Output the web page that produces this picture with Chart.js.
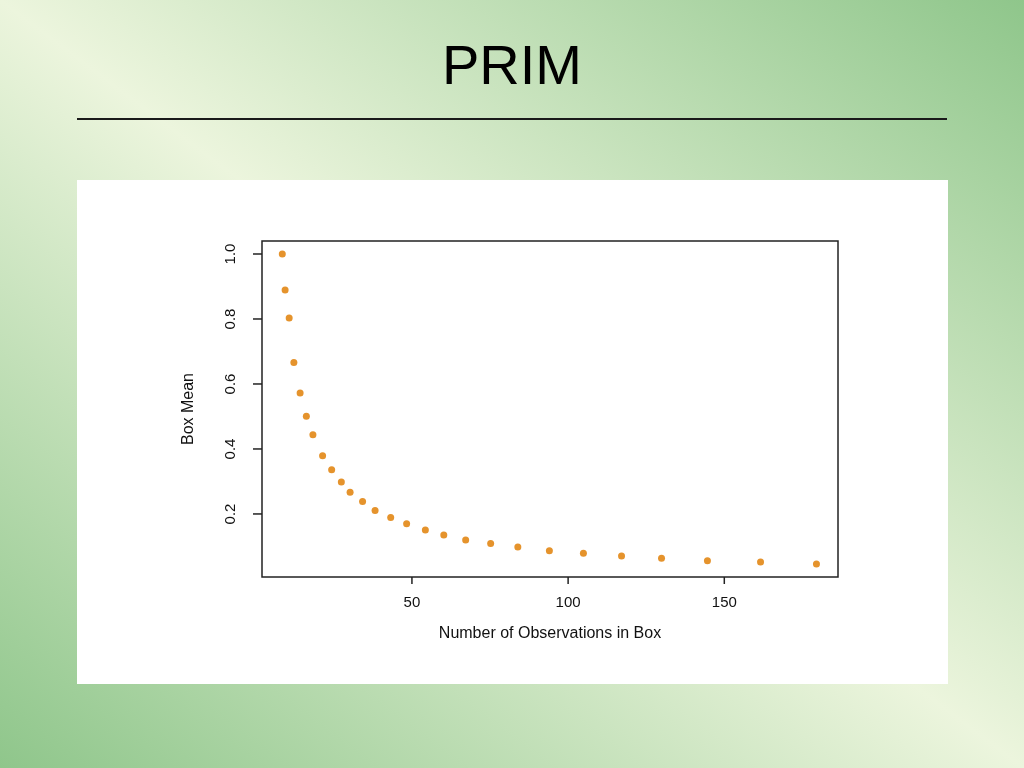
<!DOCTYPE html>
<html>
<head>
<meta charset="utf-8">
<title>PRIM</title>
<script src="https://cdn.jsdelivr.net/npm/chart.js@4"></script>
<style>
  html, body { margin: 0; padding: 0; }
  body {
    width: 1024px; height: 768px; position: relative; overflow: hidden;
    background: linear-gradient(to top right, #8fc68b 0%, #ecf5dd 50%, #8fc68b 100%);
    font-family: "Liberation Sans", Arial, sans-serif;
  }
  #titulo {
    position: absolute; left: 0; width: 1024px; top: 30px;
    text-align: center; font-size: 56px; line-height: 70px; color: #000;
  }
  #linea {
    position: absolute; left: 77px; top: 118px; width: 870px; height: 2px; background: #1a1a1a;
  }
  #panel {
    position: absolute; left: 77px; top: 180px; width: 871px; height: 504px; background: #fff;
  }
</style>
</head>
<body>
<div id="titulo">PRIM</div>
<div id="linea"></div>
<div id="panel"><canvas id="graficaPrim" width="871" height="504"></canvas></div>
<script>
// Datos
const observaciones = [8.5, 9.4, 10.7, 12.2, 14.2, 16.2, 18.3, 21.4, 24.3, 27.4, 30.2, 34.2, 38.2, 43.2, 48.3, 54.3, 60.2, 67.2, 75.2, 83.9, 94.0, 104.9, 117.1, 129.9, 144.6, 161.6, 179.5];
const mediaCaja = [1.0, 0.889, 0.803, 0.666, 0.572, 0.501, 0.444, 0.379, 0.336, 0.298, 0.267, 0.238, 0.211, 0.189, 0.170, 0.151, 0.135, 0.120, 0.109, 0.098, 0.087, 0.079, 0.071, 0.064, 0.056, 0.052, 0.046];
const ticksX = [50, 100, 150];
const ticksY = [0.2, 0.4, 0.6, 0.8, 1.0];
const etiquetasY = ["0.2", "0.4", "0.6", "0.8", "1.0"];

const puntos = observaciones.map((x, i) => ({ x: x, y: mediaCaja[i] }));

// Ejes y marco estilo R
const ejesR = {
    id: 'ejesR',
    afterDraw(chart) {
        const ctx = chart.ctx;
        const area = chart.chartArea;
        const sx = chart.scales.x;
        const sy = chart.scales.y;
        ctx.save();
        ctx.strokeStyle = '#222';
        ctx.fillStyle = '#111';
        ctx.lineWidth = 1.5;
        ctx.strokeRect(area.left, area.top, area.right - area.left, area.bottom - area.top);

        ctx.font = '15px "Liberation Sans", Arial, sans-serif';
        ctx.textAlign = 'center';
        ctx.textBaseline = 'middle';
        ticksX.forEach(v => {
            const px = sx.getPixelForValue(v);
            ctx.beginPath();
            ctx.moveTo(px, area.bottom);
            ctx.lineTo(px, area.bottom + 7);
            ctx.stroke();
            ctx.fillText(String(v), px, area.bottom + 26);
        });

        ticksY.forEach((v, i) => {
            const py = sy.getPixelForValue(v);
            ctx.beginPath();
            ctx.moveTo(area.left, py);
            ctx.lineTo(area.left - 9, py);
            ctx.stroke();
            ctx.save();
            ctx.translate(area.left - 31, py);
            ctx.rotate(-Math.PI / 2);
            ctx.fillText(etiquetasY[i], 0, 0);
            ctx.restore();
        });

        ctx.font = '16px "Liberation Sans", Arial, sans-serif';
        ctx.fillText('Number of Observations in Box', (area.left + area.right) / 2, area.bottom + 57);
        ctx.save();
        ctx.translate(area.left - 73, (area.top + area.bottom) / 2);
        ctx.rotate(-Math.PI / 2);
        ctx.fillText('Box Mean', 0, 0);
        ctx.restore();
        ctx.restore();
    }
};

const ctx = document.getElementById('graficaPrim').getContext('2d');
new Chart(ctx, {
    type: 'scatter',
    data: {
        datasets: [{
            label: 'Box Mean',
            data: puntos,
            backgroundColor: '#e5932c',
            borderWidth: 0,
            pointRadius: 3.5,
        }],
    },
    options: {
        responsive: false,
        animation: false,
        layout: { padding: { left: 185, top: 61, right: 110, bottom: 107 } },
        plugins: { legend: { display: false }, tooltip: { enabled: false } },
        scales: {
            x: { type: 'linear', min: 2.0, max: 186.4, display: false },
            y: { type: 'linear', min: 0.006, max: 1.04, display: false },
        },
    },
    plugins: [ejesR],
});
</script>
</body>
</html>
